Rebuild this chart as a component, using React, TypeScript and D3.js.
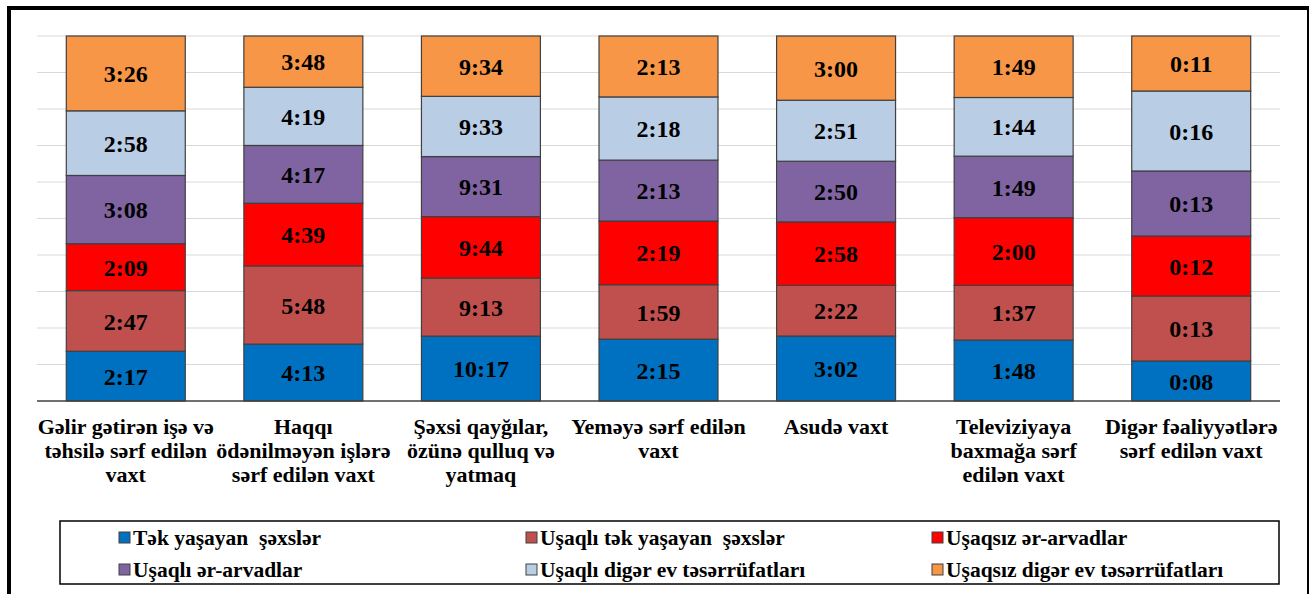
import React from "react";
import * as d3 from "d3";

const categories: string[][] = [
  ["Gəlir gətirən işə və", "təhsilə sərf edilən", "vaxt"],
  ["Haqqı", "ödənilməyən işlərə", "sərf edilən vaxt"],
  ["Şəxsi qayğılar,", "özünə qulluq və", "yatmaq"],
  ["Yeməyə sərf edilən", "vaxt"],
  ["Asudə vaxt"],
  ["Televiziyaya", "baxmağa sərf", "edilən vaxt"],
  ["Digər fəaliyyətlərə", "sərf edilən vaxt"],
];

const seriesNames = [
  "Tək yaşayan  şəxslər",
  "Uşaqlı tək yaşayan  şəxslər",
  "Uşaqsız ər-arvadlar",
  "Uşaqlı ər-arvadlar",
  "Uşaqlı digər ev təsərrüfatları",
  "Uşaqsız digər ev təsərrüfatları",
];

const seriesColors = ["#0070C0", "#C0504D", "#FF0000", "#8064A2", "#B9CDE5", "#F79646"];

const tekYasayan = ["2:17", "4:13", "10:17", "2:15", "3:02", "1:48", "0:08"];
const usaqliTek = ["2:47", "5:48", "9:13", "1:59", "2:22", "1:37", "0:13"];
const usaqsizErArvad = ["2:09", "4:39", "9:44", "2:19", "2:58", "2:00", "0:12"];
const usaqliErArvad = ["3:08", "4:17", "9:31", "2:13", "2:50", "1:49", "0:13"];
const usaqliDiger = ["2:58", "4:19", "9:33", "2:18", "2:51", "1:44", "0:16"];
const usaqsizDiger = ["3:26", "3:48", "9:34", "2:13", "3:00", "1:49", "0:11"];

const seriesValues = [tekYasayan, usaqliTek, usaqsizErArvad, usaqliErArvad, usaqliDiger, usaqsizDiger];

const gridTicks = [0, 0.1, 0.2, 0.3, 0.4, 0.5, 0.6, 0.7, 0.8, 0.9, 1];

const toMin = (s: string) => {
  const [h, m] = s.split(":").map(Number);
  return h * 60 + m;
};

const FONT = '"Liberation Serif", "Times New Roman", serif';

export default function App() {
  const W = 1310;
  const H = 594;
  const plotL = 37;
  const plotR = 1280;
  const yBase = 401;
  const yTop = 36;

  const idx = categories.map((_, i) => i);
  const x = d3
    .scaleBand<number>()
    .domain(idx)
    .range([plotL, plotR])
    .paddingInner(0.33)
    .paddingOuter(0.165);
  const y = d3.scaleLinear().domain([0, 1]).range([yBase, yTop]);

  const segments: { cat: number; s: number; y0: number; y1: number; label: string }[] = [];
  idx.forEach((c) => {
    const mins = seriesValues.map((sv) => toMin(sv[c]));
    const total = d3.sum(mins);
    let acc = 0;
    mins.forEach((m, s) => {
      const y0 = acc / total;
      acc += m;
      segments.push({ cat: c, s, y0, y1: acc / total, label: seriesValues[s][c] });
    });
  });

  const legendCols = [119, 526, 932];
  const legendRows = [538, 570];
  const txt = { fontFamily: FONT, fontWeight: 700 as const };

  return (
    <svg
      width={W}
      height={H}
      style={{ position: "absolute", left: 0, top: 0, background: "#fff", fontFamily: FONT }}
    >
      <rect x={0} y={0} width={W} height={H} fill="#fff" />
      {/* frame */}
      <line x1={9} y1={6} x2={9} y2={H} stroke="#000" strokeWidth={4} />
      <line x1={7} y1={8} x2={1309} y2={8} stroke="#000" strokeWidth={4} />
      <line x1={1308} y1={8} x2={1308} y2={H} stroke="#000" strokeWidth={2} />

      {/* gridlines */}
      {gridTicks.slice(1).map((t) => (
        <line key={t} x1={plotL} x2={plotR} y1={y(t)} y2={y(t)} stroke="#D9D9D9" strokeWidth={1.2} />
      ))}

      {/* bars */}
      {segments.map((d, i) => (
        <rect
          key={i}
          x={x(d.cat)}
          y={y(d.y1)}
          width={x.bandwidth()}
          height={y(d.y0) - y(d.y1)}
          fill={seriesColors[d.s]}
          stroke="#404040"
          strokeWidth={1.2}
        />
      ))}
      {segments.map((d, i) => (
        <text
          key={"l" + i}
          x={(x(d.cat) as number) + x.bandwidth() / 2}
          y={(y(d.y0) + y(d.y1)) / 2}
          dy="0.36em"
          textAnchor="middle"
          fontSize={24}
          style={txt}
          fill="#000"
        >
          {d.label}
        </text>
      ))}

      {/* baseline */}
      <line x1={plotL} x2={plotR} y1={yBase} y2={yBase} stroke="#404040" strokeWidth={1.5} />

      {/* category labels */}
      {categories.map((lines, c) => (
        <text
          key={"c" + c}
          x={(x(c) as number) + x.bandwidth() / 2}
          y={434}
          textAnchor="middle"
          fontSize={22}
          style={txt}
          fill="#000"
        >
          {lines.map((ln, k) => (
            <tspan key={k} x={(x(c) as number) + x.bandwidth() / 2} dy={k === 0 ? 0 : 24}>
              {ln}
            </tspan>
          ))}
        </text>
      ))}

      {/* legend */}
      <rect x={60} y={521} width={1219} height={63} fill="none" stroke="#000" strokeWidth={1.5} />
      {seriesNames.map((name, s) => {
        const cx = legendCols[s % 3];
        const cy = legendRows[Math.floor(s / 3)];
        return (
          <g key={"g" + s}>
            <rect x={cx} y={cy - 6} width={11} height={11} fill={seriesColors[s]} stroke="#404040" strokeWidth={1} />
            <text
              x={cx + 14}
              y={cy}
              dy="0.33em"
              fontSize={21.5}
              fill="#000"
              style={{ ...txt, whiteSpace: "pre" }}
            >
              {name}
            </text>
          </g>
        );
      })}
    </svg>
  );
}
